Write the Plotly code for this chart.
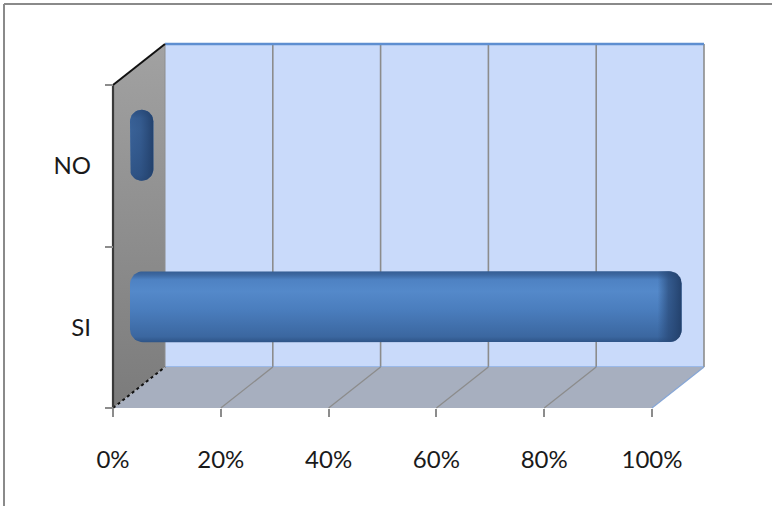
import numpy as np
import plotly.graph_objects as go

# ---- data -------------------------------------------------------------
categories = ["SI", "NO"]
values = [99, 1]                      # percent of answers
x_ticks = [0, 20, 40, 60, 80, 100]
x_tick_labels = ["0%", "20%", "40%", "60%", "80%", "100%"]

# ---- canvas / projection ----------------------------------------------
W, H = 772, 506
X0_PX, X100_PX = 113, 652            # front axis: 0% and 100%
Y0_PX, YTOP_PX = 408, 85             # front axis: bottom and top of category band
N = len(categories)
sx = (X100_PX - X0_PX) / 100.0       # px per percent
sy = (Y0_PX - YTOP_PX) / N           # px per category
DX = 52 / sx                         # depth offset (x) in data units
DY = 41 / sy                         # depth offset (y) in data units
x_range = [-X0_PX / sx, (W - X0_PX) / sx]
y_range = [-(H - Y0_PX) / sy, Y0_PX / sy]

fig = go.Figure()


def polygon(xs, ys, color=None, grad=None, line_color="rgba(0,0,0,0)", line_width=0):
    kw = dict(x=list(xs) + [xs[0]], y=list(ys) + [ys[0]], mode="lines", fill="toself",
              line=dict(color=line_color, width=line_width), hoverinfo="skip",
              showlegend=False)
    if grad is not None:
        kw["fillgradient"] = grad
    else:
        kw["fillcolor"] = color
    fig.add_trace(go.Scatter(**kw))


def segment(x0, y0, x1, y1, color, width, dash="solid"):
    fig.add_trace(go.Scatter(x=[x0, x1], y=[y0, y1], mode="lines",
                             line=dict(color=color, width=width, dash=dash),
                             hoverinfo="skip", showlegend=False))


def rounded_rect(x0, x1, yc, hh_px, r_px, left=True, right=True):
    r = min(r_px, (x1 - x0) * sx / 2, hh_px)
    rx, ry, hh = r / sx, r / sy, hh_px / sy
    xs, ys = [], []

    def arc(cx, cy, a0, a1):
        for a in np.linspace(a0, a1, 10):
            xs.append(cx + rx * np.cos(a))
            ys.append(cy + ry * np.sin(a))

    if right:
        arc(x1 - rx, yc + hh - ry, 0, np.pi / 2)
    else:
        xs.append(x1); ys.append(yc + hh)
    if left:
        arc(x0 + rx, yc + hh - ry, np.pi / 2, np.pi)
        arc(x0 + rx, yc - hh + ry, np.pi, 1.5 * np.pi)
    else:
        xs += [x0, x0]; ys += [yc + hh, yc - hh]
    if right:
        arc(x1 - rx, yc - hh + ry, 1.5 * np.pi, 2 * np.pi)
    else:
        xs.append(x1); ys.append(yc - hh)
    return xs, ys


# ---- back wall --------------------------------------------------------
polygon([DX, DX + 100, DX + 100, DX], [DY, DY, N + DY, N + DY], color="#C9DAFA")
for t in x_ticks[1:]:
    segment(t + DX, DY, t + DX, N + DY, "#8C8C8C", 1.6)
segment(DX, N + DY, DX + 100, N + DY, "#5E8ED0", 2.4)
segment(DX, DY, DX + 100, DY, "#6D98D8", 1.2)

# ---- floor ------------------------------------------------------------
polygon([0, DX, DX + 100, 100], [0, DY, DY, 0], color="#A7AFBF")
for t in x_ticks[1:-1]:
    segment(t, 0, t + DX, DY, "#8C8C8C", 1.3)
segment(100, 0, 100 + DX, DY, "#86A6D6", 1.2)

# ---- side wall --------------------------------------------------------
polygon([0, DX, DX, 0], [0, DY, N + DY, N],
        grad=dict(type="vertical", colorscale=[[0, "#7B7B7B"], [1, "#A2A2A2"]]))
segment(DX, DY, DX, N + DY, "#8E8E8E", 1)
segment(0, N, DX, N + DY, "#111111", 2)
segment(0, 0, DX, DY, "#111111", 2, dash="dot")
segment(0, 0, 0, N, "#3A3A3A", 2.2)

# ---- bars -------------------------------------------------------------
BAR_HALF_PX = 35.5
CAP_PX = 9
CAP_LEN_PX = 24
body_scale = [[0.0, "#2E5487"], [0.08, "#3B67A0"], [0.45, "#4A7DBD"],
              [0.72, "#5489CA"], [0.88, "#4E82C3"], [0.95, "#3D68A1"], [1.0, "#345D93"]]
for i, (cat, v) in enumerate(zip(categories, values)):
    yc = i + 0.5 + DY / 2
    x_left = DX / 2 - CAP_PX / sx
    x_right = v + DX / 2 + CAP_PX / sx
    bx, by = rounded_rect(x_left, x_right, yc, BAR_HALF_PX, 13)
    polygon(bx, by, grad=dict(type="vertical", colorscale=body_scale))
    # darker rounded end cap; a very short bar is nearly all cap
    short = (x_right - x_left) * sx <= CAP_LEN_PX + 4
    a0 = 0.6 if short else 0.0
    cap_scale = [[0.0, f"rgba(40,72,118,{a0})"], [0.45, "rgba(40,72,118,0.7)"],
                 [1.0, "rgba(33,62,104,0.95)"]]
    cap_left = max(x_left, x_right - CAP_LEN_PX / sx)
    cx, cy = rounded_rect(cap_left, x_right, yc, BAR_HALF_PX, 13,
                          left=(cap_left == x_left))
    polygon(cx, cy, grad=dict(type="horizontal", colorscale=cap_scale))

# ---- layout -----------------------------------------------------------
font = dict(family="Lato, 'Open Sans', sans-serif", size=24, color="#1A1A1A")
fig.update_layout(
    width=W, height=H,
    margin=dict(l=0, r=0, t=0, b=0),
    paper_bgcolor="white", plot_bgcolor="white",
    showlegend=False,
    xaxis=dict(range=x_range, domain=[0, 1], anchor="free", position=(H - Y0_PX) / H,
               showgrid=False, zeroline=False, showline=False,
               tickmode="array", tickvals=x_ticks, ticktext=x_tick_labels,
               ticks="outside", ticklen=8, tickwidth=2, tickcolor="#8C8C8C",
               tickfont=font, ticklabelstandoff=22, fixedrange=True),
    yaxis=dict(range=y_range, domain=[0, 1], anchor="free", position=X0_PX / W,
               showgrid=False, zeroline=False, showline=False,
               tickmode="array", tickvals=[i + 0.5 for i in range(N)], ticktext=categories,
               ticks="", tickfont=font, ticklabelstandoff=22,
               minor=dict(tickmode="array", tickvals=list(range(N + 1)), ticks="outside",
                          ticklen=8, tickwidth=2, tickcolor="#8C8C8C", showgrid=False),
               fixedrange=True),
    shapes=[
        dict(type="line", xref="paper", yref="paper", x0=4 / W, x1=1, y0=1 - 4 / H, y1=1 - 4 / H,
             line=dict(color="#8A8A8A", width=2)),
        dict(type="line", xref="paper", yref="paper", x0=4 / W, x1=4 / W, y0=0, y1=1 - 4 / H,
             line=dict(color="#8A8A8A", width=2)),
    ],
)

fig.write_html("out.html")
